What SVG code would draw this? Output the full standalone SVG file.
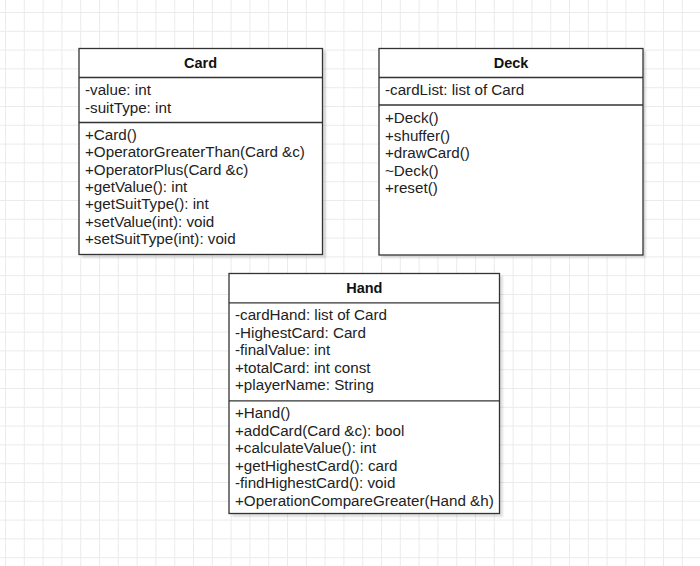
<svg xmlns="http://www.w3.org/2000/svg" width="700" height="566" viewBox="0 0 700 566">
<defs>
<pattern id="grid" patternUnits="userSpaceOnUse" x="5" y="12" width="18.8" height="18.8">
<path d="M0 0.5H18.8M0.5 0V18.8" fill="none" stroke="#ebebeb" stroke-width="1"/>
</pattern>
<filter id="sh" x="-10%" y="-10%" width="120%" height="120%"><feGaussianBlur stdDeviation="1.2"/></filter>
</defs>
<style>
.box{fill:#fff;stroke:#333;stroke-width:1.3}
.shadow{fill:#000;opacity:0.12}
.div{stroke:#333;stroke-width:1.3}
text{font-family:"Liberation Sans",Arial,sans-serif;font-size:15.2px;fill:#222}
.title{font-weight:bold;font-size:14.5px;text-anchor:middle;fill:#111}
</style>
<rect width="700" height="566" fill="#fff"/>
<rect width="700" height="566" fill="url(#grid)"/>
<g id="card">
<rect class="shadow" x="82" y="51" width="244" height="207" filter="url(#sh)"/>
<rect class="box" x="79" y="48.5" width="243.5" height="206"/>
<line class="div" x1="79" y1="77.5" x2="322.5" y2="77.5"/>
<line class="div" x1="79" y1="122.5" x2="322.5" y2="122.5"/>
<text class="title" x="200.5" y="68">Card</text>
<text x="85" y="95">-value: int</text>
<text x="85" y="112.5">-suitType: int</text>
<text x="85" y="140">+Card()</text>
<text x="85" y="157.3">+OperatorGreaterThan(Card &amp;c)</text>
<text x="85" y="174.6">+OperatorPlus(Card &amp;c)</text>
<text x="85" y="191.9">+getValue(): int</text>
<text x="85" y="209.2">+getSuitType(): int</text>
<text x="85" y="226.5">+setValue(int): void</text>
<text x="85" y="243.8">+setSuitType(int): void</text>
</g>
<g id="deck">
<rect class="shadow" x="382" y="51" width="264" height="207" filter="url(#sh)"/>
<rect class="box" x="379" y="48.5" width="264" height="206.5"/>
<line class="div" x1="379" y1="77.5" x2="643" y2="77.5"/>
<line class="div" x1="379" y1="105" x2="643" y2="105"/>
<text class="title" x="511" y="68">Deck</text>
<text x="385" y="95">-cardList: list of Card</text>
<text x="385" y="123">+Deck()</text>
<text x="385" y="140.5">+shuffer()</text>
<text x="385" y="158">+drawCard()</text>
<text x="385" y="175.5">~Deck()</text>
<text x="385" y="193">+reset()</text>
</g>
<g id="hand">
<rect class="shadow" x="232" y="276" width="271" height="241" filter="url(#sh)"/>
<rect class="box" x="229" y="273.5" width="270.5" height="240"/>
<line class="div" x1="229" y1="302.8" x2="499.5" y2="302.8"/>
<line class="div" x1="229" y1="400.8" x2="499.5" y2="400.8"/>
<text class="title" x="364.3" y="293">Hand</text>
<text x="235" y="320">-cardHand: list of Card</text>
<text x="235" y="337.5">-HighestCard: Card</text>
<text x="235" y="355">-finalValue: int</text>
<text x="235" y="372.5">+totalCard: int const</text>
<text x="235" y="390">+playerName: String</text>
<text x="235" y="418">+Hand()</text>
<text x="235" y="435.5">+addCard(Card &amp;c): bool</text>
<text x="235" y="453">+calculateValue(): int</text>
<text x="235" y="470.5">+getHighestCard(): card</text>
<text x="235" y="488">-findHighestCard(): void</text>
<text x="235" y="505.5">+OperationCompareGreater(Hand &amp;h)</text>
</g>
<g id="connectors"/>
</svg>
